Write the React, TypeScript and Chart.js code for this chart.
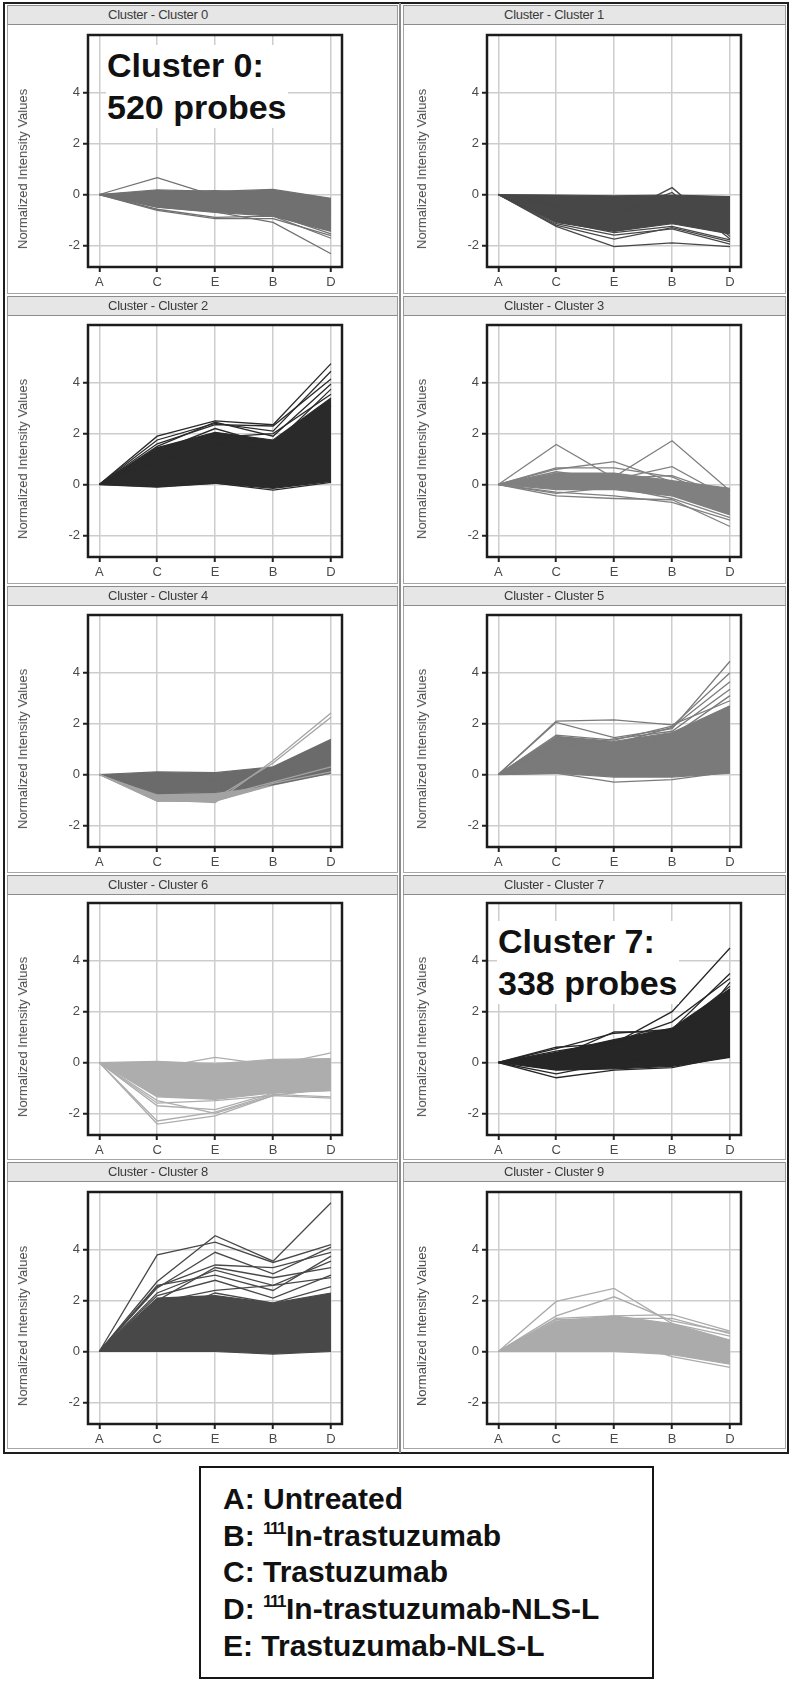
import React, { useEffect, useRef } from "react";
import { Chart, registerables } from "chart.js";

Chart.register(...registerables);

// ---------- data ----------
const categories = ["A", "C", "E", "B", "D"];
const yTickValues = [-2, 0, 2, 4];
const yAxisTitle = "Normalized Intensity Values";
const Y_MIN = -2.85;
const Y_MAX = 6.27;

const clusterNames = [
  "Cluster - Cluster 0", "Cluster - Cluster 1", "Cluster - Cluster 2", "Cluster - Cluster 3",
  "Cluster - Cluster 4", "Cluster - Cluster 5", "Cluster - Cluster 6", "Cluster - Cluster 7",
  "Cluster - Cluster 8", "Cluster - Cluster 9",
];
const clusterColors = ["#707070", "#474747", "#2a2a2a", "#808080", "#6b6b6b", "#7a7a7a", "#adadad", "#262626", "#484848", "#ababab"];
const accentColors = ["#707070", "#474747", "#2a2a2a", "#808080", "#a3a3a3", "#7a7a7a", "#adadad", "#262626", "#484848", "#ababab"];

// envelopes of the dense bundle of probes (upper / lower)
const c0Upper = [0, 0.18, 0.12, 0.2, -0.15];
const c0Lower = [0, -0.5, -0.7, -0.85, -1.45];
const c1Upper = [0, -0.02, -0.05, -0.02, -0.08];
const c1Lower = [0, -1.1, -1.45, -1.15, -1.55];
const c2Upper = [0, 1.45, 2.05, 1.75, 3.4];
const c2Lower = [0, -0.08, 0.05, -0.15, 0.12];
const c3Upper = [0, 0.45, 0.45, 0.15, -0.15];
const c3Lower = [0, -0.2, -0.2, -0.45, -1.2];
const c4Upper = [0, 0.1, 0.07, 0.3, 1.38];
const c4Lower = [0, -0.75, -0.7, -0.4, 0.05];
const c4AccentLower = [0, -1.05, -1.05, -0.42, 0.05];
const c5Upper = [0, 1.5, 1.3, 1.65, 2.7];
const c5Lower = [0, 0.05, -0.1, -0.1, 0.05];
const c6Upper = [0, 0.05, -0.05, 0.12, 0.15];
const c6Lower = [0, -1.35, -1.45, -1.2, -1.1];
const c7Upper = [0, 0.4, 0.9, 1.35, 2.9];
const c7Lower = [0, -0.3, -0.25, -0.15, 0.2];
const c8Upper = [0, 2.1, 2.2, 1.9, 2.3];
const c8Lower = [0, 0.0, 0.0, -0.1, 0.0];
const c9Upper = [0, 1.2, 1.4, 1.1, 0.45];
const c9Lower = [0, 0.0, 0.0, -0.12, -0.5];

// individual probe profiles visible outside / at the edge of the bundle
const c0Lines = [
  [0, 0.66, -0.05, -0.2, -0.6],
  [0, -0.62, -0.95, -0.95, -1.62],
  [0, -0.5, -0.68, -1.1, -2.33],
  [0, -0.58, -0.9, -0.85, -1.72],
  [0, -0.45, -0.6, -0.78, -1.55],
  [0, 0.1, 0.15, 0.05, -0.3],
];
const c1Lines = [
  [0, -1.2, -1.75, -1.3, -1.85],
  [0, -1.25, -2.05, -1.9, -2.05],
  [0, -1.15, -1.6, -1.35, -1.95],
  [0, -0.5, -0.9, 0.27, -1.65],
  [0, -0.4, -0.75, 0.08, -1.75],
  [0, -1.05, -1.5, -1.25, -1.78],
];
const c2Lines = [
  [0, 1.9, 2.5, 2.35, 4.75],
  [0, 1.75, 2.4, 2.1, 4.45],
  [0, 1.6, 2.35, 2.3, 4.15],
  [0, 1.5, 2.45, 1.9, 3.95],
  [0, 1.3, 2.2, 1.55, 3.75],
  [0, 1.05, 1.85, 2.0, 3.55],
  [0, 0.9, 1.6, 1.4, 3.1],
  [0, -0.1, 0.05, -0.22, 0.08],
];
const c3Lines = [
  [0, 1.57, 0.25, 0.35, -0.45],
  [0, 0.35, 0.3, 1.72, -0.25],
  [0, 0.6, 0.9, 0.1, -0.8],
  [0, 0.5, 0.2, 0.7, -0.55],
  [0, 0.65, 0.65, 0.3, -0.7],
  [0, -0.45, -0.55, -0.6, -1.65],
  [0, -0.3, -0.45, -0.7, -1.4],
  [0, -0.35, -0.1, -0.55, -1.3],
];
const c4Lines = [
  [0, -0.3, -0.2, 0.1, 1.1],
  [0, -0.5, -0.45, -0.1, 0.9],
];
const c4Accent = [
  [0, -1.05, -1.05, -0.35, 0.1],
  [0, -0.95, -0.9, -0.3, 0.3],
  [0, -1.0, -1.1, 0.55, 2.42],
  [0, -0.85, -0.95, 0.45, 2.25],
];
const c5Lines = [
  [0, 2.1, 2.15, 1.95, 2.9],
  [0, 2.05, 1.45, 1.8, 4.45],
  [0, 1.55, 1.35, 1.9, 4.0],
  [0, 1.35, 1.2, 1.85, 3.65],
  [0, 1.1, 1.4, 1.7, 3.35],
  [0, 1.2, 0.9, 1.5, 3.1],
  [0, 0.05, -0.3, -0.2, 0.1],
];
const c6Lines = [
  [0, -2.42, -2.1, -1.3, -1.0],
  [0, -2.3, -1.95, -1.25, -1.35],
  [0, -1.7, -1.85, -1.2, -1.1],
  [0, -1.6, -1.5, -1.3, -1.4],
  [0, -0.2, 0.2, -0.1, 0.38],
  [0, -1.5, -2.0, -1.3, -1.0],
];
const c7Lines = [
  [0, 0.6, 0.75, 2.0, 4.5],
  [0, 0.55, 1.15, 1.3, 3.5],
  [0, -0.6, -0.3, -0.2, 0.25],
  [0, -0.45, 0.0, 0.3, 3.15],
  [0, 0.2, 1.2, 1.2, 3.0],
  [0, 0.45, 0.8, 1.6, 3.3],
];
const c8Lines = [
  [0, 3.8, 4.3, 3.5, 4.2],
  [0, 2.75, 4.55, 3.55, 5.85],
  [0, 2.5, 3.9, 3.05, 4.1],
  [0, 2.55, 3.4, 3.3, 3.9],
  [0, 2.3, 3.2, 2.6, 3.55],
  [0, 2.6, 3.0, 2.4, 3.75],
  [0, 2.2, 2.8, 2.1, 3.0],
  [0, 1.95, 2.4, 2.6, 2.9],
  [0, 1.4, 2.3, 1.9, 2.55],
  [0, 2.0, 3.3, 2.9, 3.3],
];
const c9Lines = [
  [0, 1.97, 2.48, 1.1, 0.6],
  [0, 1.4, 2.15, 1.2, 0.75],
  [0, 1.3, 1.4, 1.45, 0.8],
  [0, 0.3, 0.5, -0.2, -0.62],
  [0, 1.25, 1.3, 1.3, 0.7],
];

const uppers = [c0Upper, c1Upper, c2Upper, c3Upper, c4Upper, c5Upper, c6Upper, c7Upper, c8Upper, c9Upper];
const lowers = [c0Lower, c1Lower, c2Lower, c3Lower, c4Lower, c5Lower, c6Lower, c7Lower, c8Lower, c9Lower];
const accentLowers: (number[] | null)[] = [null, null, null, null, c4AccentLower, null, null, null, null, null];
const lineSets = [c0Lines, c1Lines, c2Lines, c3Lines, c4Lines, c5Lines, c6Lines, c7Lines, c8Lines, c9Lines];
const accentSets = [[], [], [], [], c4Accent, [], [], [], [], []];

const annotations: Record<number, string[]> = {
  0: ["Cluster 0:", "520 probes"],
  7: ["Cluster 7:", "338 probes"],
};
const annotationPos: Record<number, { left: number; top: number }> = {
  0: { left: 106, top: 45 },
  7: { left: 497, top: 921 },
};

const legendItems = [
  { key: "A: ", sup: "", text: "Untreated" },
  { key: "B: ", sup: "111", text: "In-trastuzumab" },
  { key: "C: ", sup: "", text: "Trastuzumab" },
  { key: "D: ", sup: "111", text: "In-trastuzumab-NLS-L" },
  { key: "E: ", sup: "", text: "Trastuzumab-NLS-L" },
];

// ---------- layout ----------
const FONT = "'Liberation Sans', Arial, sans-serif";
const colLeft = [6, 405];
const cellLeft = [7, 403];
const cellWidth = [391, 383];
const headerTop = [5, 296, 586, 875, 1162];
const boxTop = [35, 325, 615, 903, 1192];
const CANVAS_W = 388;
const CANVAS_H = 278;
const PAD_TOP = 12;
const AXIS_W = 82;
const XAXIS_H = 34;

const framePlugin = {
  id: "boxFrame",
  afterDraw(chart: any) {
    const { ctx, chartArea } = chart;
    ctx.save();
    ctx.strokeStyle = "#1c1c1c";
    ctx.lineWidth = 2.5;
    ctx.strokeRect(chartArea.left, chartArea.top, chartArea.right - chartArea.left, chartArea.bottom - chartArea.top);
    ctx.restore();
  },
};

function Panel({ idx }: { idx: number }) {
  const ref = useRef<HTMLCanvasElement>(null);
  const col = idx % 2;
  const row = Math.floor(idx / 2);
  const left = colLeft[col];
  const top = boxTop[row] - PAD_TOP;

  useEffect(() => {
    const color = clusterColors[idx];
    const accent = accentColors[idx];
    const toPts = (arr: number[]) => arr.map((v, i) => ({ x: i, y: v }));
    const base = { pointRadius: 0, pointHoverRadius: 0, tension: 0, fill: false };
    const accLow = accentLowers[idx];
    const datasets: any[] = [
      ...accentSets[idx].map((l) => ({ ...base, data: toPts(l), borderColor: accent, borderWidth: 1.3 })),
      ...lineSets[idx].map((l) => ({ ...base, data: toPts(l), borderColor: color, borderWidth: 1.3 })),
      { ...base, data: toPts(lowers[idx]), borderColor: color, borderWidth: 1.2 },
      { ...base, data: toPts(uppers[idx]), borderColor: color, borderWidth: 1.2, backgroundColor: color, fill: "-1" },
    ];
    if (accLow) {
      datasets.push({ ...base, data: toPts(accLow), borderColor: accent, borderWidth: 1.2 });
      datasets.push({ ...base, data: toPts(lowers[idx]), borderColor: accent, borderWidth: 0, backgroundColor: accent, fill: "-1" });
    }
    const grid = { color: "#cdcdcd", lineWidth: 1.5, drawTicks: true, tickLength: 5, tickColor: "#222", tickWidth: 2 };
    const tickFont = { family: FONT, size: 13 };
    const chart = new Chart(ref.current as HTMLCanvasElement, {
      type: "line",
      data: { datasets },
      plugins: [framePlugin],
      options: {
        animation: false,
        responsive: false,
        devicePixelRatio: 1,
        events: [],
        layout: { padding: { top: PAD_TOP, right: CANVAS_W - AXIS_W - 254, left: 0, bottom: 0 } },
        plugins: { legend: { display: false }, tooltip: { enabled: false }, title: { display: false } },
        scales: {
          x: {
            type: "linear",
            min: -0.195,
            max: 4.19,
            grid,
            border: { display: false },
            ticks: {
              font: tickFont,
              color: "#4a4a4a",
              padding: 3,
              autoSkip: false,
              maxRotation: 0,
              callback: (v: any) => categories[v as number] ?? "",
            },
            afterBuildTicks: (scale: any) => {
              scale.ticks = categories.map((_, i) => ({ value: i }));
            },
            afterFit: (scale: any) => {
              scale.height = XAXIS_H;
            },
          },
          y: {
            type: "linear",
            min: Y_MIN,
            max: Y_MAX,
            grid,
            border: { display: false },
            ticks: { font: tickFont, color: "#4a4a4a", padding: 3 },
            afterBuildTicks: (scale: any) => {
              scale.ticks = yTickValues.map((v) => ({ value: v }));
            },
            afterFit: (scale: any) => {
              scale.width = AXIS_W;
            },
          },
        },
      } as any,
    });
    return () => chart.destroy();
  }, [idx]);

  const ann = annotations[idx];
  const annPos = annotationPos[idx];
  return (
    <>
      <div
        style={{
          position: "absolute",
          left: cellLeft[col],
          top: headerTop[row],
          width: cellWidth[col],
          height: 20,
          boxSizing: "border-box",
          background: "#e6e6e6",
          borderTop: "1.5px solid #8c8c8c",
          borderBottom: "1.5px solid #8c8c8c",
          borderLeft: "1px solid #9a9a9a",
          borderRight: "1px solid #9a9a9a",
        }}
      >
        <div
          style={{
            position: "absolute",
            left: 0,
            width: 300,
            top: 0,
            height: 17,
            lineHeight: "17px",
            textAlign: "center",
            fontFamily: FONT,
            fontSize: 13,
            letterSpacing: -0.25,
            color: "#3a3a3a",
            whiteSpace: "nowrap",
          }}
        >
          {clusterNames[idx]}
        </div>
      </div>
      <canvas
        ref={ref}
        width={CANVAS_W}
        height={CANVAS_H}
        style={{ position: "absolute", left, top, width: CANVAS_W, height: CANVAS_H }}
      />
      <div
        style={{
          position: "absolute",
          left: left + 17,
          top: boxTop[row] + 134,
          transform: "translate(-50%, -50%) rotate(-90deg)",
          whiteSpace: "nowrap",
          fontFamily: FONT,
          fontSize: 13,
          color: "#4a4a4a",
          lineHeight: "14px",
        }}
      >
        {yAxisTitle}
      </div>
      {ann && annPos && (
        <div
          style={{
            position: "absolute",
            left: annPos.left,
            top: annPos.top,
            background: "#ffffff",
            padding: "0 1px",
            fontFamily: FONT,
            fontWeight: "bold",
            fontSize: 34,
            lineHeight: "41.7px",
            color: "#111",
            whiteSpace: "nowrap",
          }}
        >
          {ann[0]}
          <br />
          {ann[1]}
        </div>
      )}
    </>
  );
}

export default function App() {
  const rowBottoms = [294, 584, 873, 1160, 1449];
  return (
    <div style={{ position: "absolute", left: 0, top: 0, width: 792, height: 1684, background: "#ffffff", overflow: "hidden" }}>
      {headerTop.map((ht, r) =>
        [0, 1].map((c) => (
          <div
            key={`cell-${r}-${c}`}
            style={{
              position: "absolute",
              left: cellLeft[c],
              top: ht,
              width: cellWidth[c],
              height: rowBottoms[r] - ht,
              boxSizing: "border-box",
              border: "1px solid #a6a6a6",
            }}
          />
        ))
      )}
      {Array.from({ length: 10 }, (_, i) => (
        <Panel key={i} idx={i} />
      ))}
      <div
        style={{
          position: "absolute",
          left: 3,
          top: 2,
          width: 786,
          height: 1452,
          boxSizing: "border-box",
          border: "2.5px solid #1e1e1e",
        }}
      />
      <div style={{ position: "absolute", left: 399, top: 3, width: 2, height: 1450, background: "#8a8a8a" }} />
      <div
        style={{
          position: "absolute",
          left: 199,
          top: 1466,
          width: 455,
          height: 213,
          boxSizing: "border-box",
          border: "2px solid #151515",
          paddingLeft: 22,
          paddingTop: 13,
          fontFamily: FONT,
          fontWeight: "bold",
          fontSize: 30,
          lineHeight: "36.7px",
          color: "#111",
          whiteSpace: "nowrap",
        }}
      >
        {legendItems.map((it) => (
          <div key={it.key}>
            {it.key}
            {it.sup && (
              <span style={{ fontSize: 17, position: "relative", top: -12, lineHeight: 0, letterSpacing: -1.5, marginRight: 1 }}>
                {it.sup}
              </span>
            )}
            {it.text}
          </div>
        ))}
      </div>
    </div>
  );
}
